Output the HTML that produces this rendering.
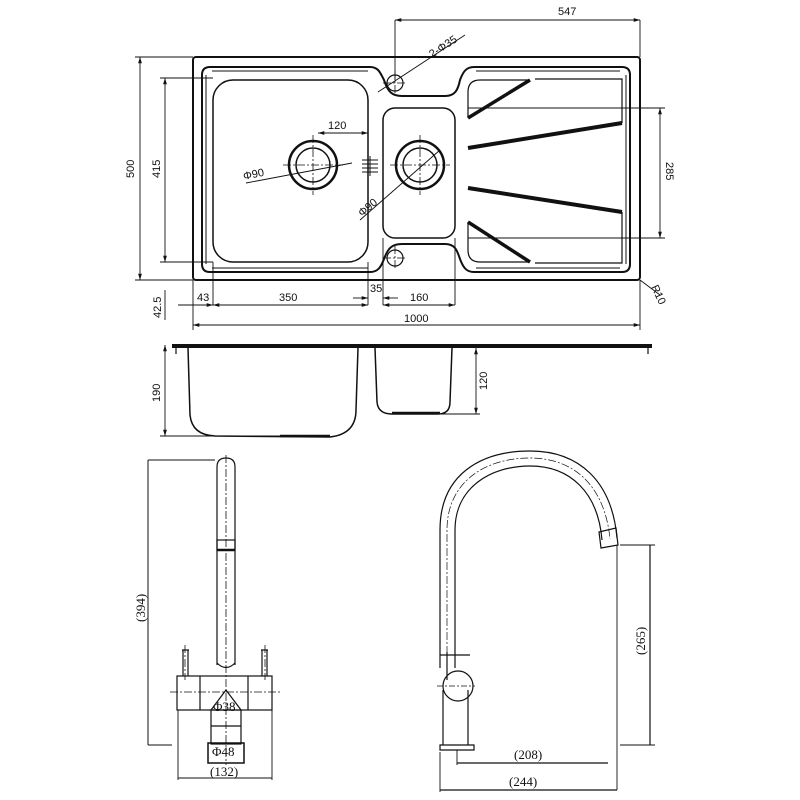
<!DOCTYPE html>
<html><head><meta charset="utf-8"><style>
html,body{margin:0;padding:0;background:#fff;}
svg{display:block;}
text{font-family:"Liberation Sans",sans-serif;font-size:11px;fill:#111;}
.s{font-family:"Liberation Serif",serif;font-size:13px;}
</style></head><body>
<svg width="800" height="800" viewBox="0 0 800 800" xmlns="http://www.w3.org/2000/svg">
<defs>
<marker id="a" viewBox="0 0 10 10" refX="10" refY="5" markerWidth="7" markerHeight="7" orient="auto-start-reverse"><path d="M0,2 L10,5 L0,8 z" fill="#111"/></marker>
</defs>
<g fill="none" stroke="#111" stroke-width="1.2">
<!-- TOP VIEW -->
<rect x="193" y="57" width="447" height="223" rx="3" stroke-width="2"/>
<path d="M210,67 H370 C378,67 380,72 384,80 C388,92 392,96 402,96 H445 C455,96 458,90 460,80 C463,72 466,67 474,67 H622 Q630,67 630,75 V264 Q630,272 622,272 H474 C466,272 463,267 460,259 C457,250 455,244 445,244 H402 C392,244 388,248 384,259 C381,267 378,272 370,272 H210 Q202,272 202,264 V75 Q202,67 210,67 Z" stroke-width="2"/>
<path d="M212,71 H368 M212,268 H368 M206,75 V264 M626,75 V264 M476,71 H620 M476,268 H620" stroke-width="1"/>
<rect x="213" y="80" width="155" height="182" rx="20" stroke-width="1.5"/>
<rect x="383" y="108" width="72" height="130" rx="12" stroke-width="1.5"/>
<path d="M468,118 V92 Q468,80 480,80 H528"/>
<path d="M468,118 L530,80" stroke-width="3.5"/>
<path d="M468,148 L622,123" stroke-width="4"/>
<path d="M468,188 L622,212" stroke-width="4"/>
<path d="M468,222 V250 Q468,262 480,262 H528"/>
<path d="M468,222 L530,262" stroke-width="3.5"/>
<path d="M535,79 H622 V123 M535,263 H622 V212"/>
<circle cx="313" cy="165" r="24" stroke-width="2.5"/><circle cx="313" cy="165" r="17" stroke-width="1.5"/>
<circle cx="420" cy="165" r="24" stroke-width="2.5"/><circle cx="420" cy="165" r="17" stroke-width="1.5"/>
<circle cx="395" cy="83" r="8"/><circle cx="395" cy="258" r="8"/>
<g stroke-dasharray="8,2,2,2" stroke-width="0.8">
<path d="M283,165 H343 M313,135 V195 M390,165 H450 M420,135 V195 M383,83 H407 M395,71 V95 M383,258 H407 M395,246 V270"/>
</g>
<path d="M362,160 H378 M362,164 H378 M362,168 H378 M362,172 H378 M370,156 V176" stroke-width="1"/>
<!-- dims top -->
<g stroke-width="0.9">
<path d="M395,20 V80 M640,20 V57 M468,108 H665 M468,238 H665 M160,78 H213 M160,262 H213 M135,57 H193 M135,280 H193"/>
<path d="M213,262 V305 M368,262 V305 M383,238 V305 M455,238 V305 M193,280 V330 M640,280 V330 M165,290 V320"/>
<path d="M395,20 H640" marker-start="url(#a)" marker-end="url(#a)"/>
<path d="M140,57 V280" marker-start="url(#a)" marker-end="url(#a)"/>
<path d="M165,78 V262" marker-start="url(#a)" marker-end="url(#a)"/>
<path d="M660,108 V238" marker-start="url(#a)" marker-end="url(#a)"/>
<path d="M178,305 H213" marker-end="url(#a)"/>
<path d="M213,305 H368" marker-start="url(#a)" marker-end="url(#a)"/>
<path d="M353,298 H368" marker-end="url(#a)"/><path d="M398,298 H383" marker-end="url(#a)"/>
<path d="M383,305 H455" marker-start="url(#a)" marker-end="url(#a)"/>
<path d="M193,325 H640" marker-start="url(#a)" marker-end="url(#a)"/>
<path d="M318,133 H368" marker-start="url(#a)" marker-end="url(#a)"/>
<path d="M246,183 L352,163 M360,220 L440,150 M378,92 L465,35 M640,280 L660,295"/>
</g>
<!-- SIDE VIEW -->
<path d="M172,344 H652 V348 H172 Z" fill="#111" stroke="none"/>
<path d="M176,348 V354 M648,348 V354"/>
<path d="M188,348 L190,415 Q192,435 215,436 L330,437 Q356,434 356,410 L358,348" stroke-width="1.5"/>
<path d="M375,348 L377,402 Q378,414 392,414 H438 Q450,414 450,402 L452,348" stroke-width="1.5"/>
<path d="M280,436 H330 M392,413 H440" stroke-width="2.5"/>
<path d="M160,436 H330 M440,414 H480" stroke-width="0.9"/>
<path d="M165,345 V436" marker-start="url(#a)" marker-end="url(#a)" stroke-width="0.9"/>
<path d="M476,348 V414" marker-start="url(#a)" marker-end="url(#a)" stroke-width="0.9"/>
<!-- LEFT TAP -->
<path d="M217,665 V467 Q217,458 226,458 Q235,458 235,467 V665"/>
<rect x="217" y="540" width="18" height="10"/>
<path d="M217,550 H235" stroke-width="2.5"/>
<path d="M217,663 Q226,672 235,663"/>
<rect x="177" y="676" width="95" height="34"/>
<path d="M200,676 V710 M248,676 V710"/>
<path d="M211,710 L226,690 L241,710"/>
<rect x="211" y="710" width="30" height="34"/>
<path d="M211,726 H241"/>
<rect x="208" y="743" width="36" height="20" stroke-width="1.5"/>
<path d="M183,650 V676 M188,650 V676 M262,650 V676 M267,650 V676 M182,650 H189 M261,650 H268"/>
<g stroke-dasharray="8,2,2,2" stroke-width="0.8"><path d="M226,455 V765 M170,692 H280 M185,645 V680 M265,645 V680"/></g>
<path d="M148,460 H215 M148,745 H172 M178,710 V780 M272,710 V780" stroke-width="0.9"/>
<path d="M148,460 V745" stroke-width="1"/>
<path d="M178,778 H272" stroke-width="1"/>
<!-- RIGHT TAP -->
<path d="M440,668 V530 C440,475 480,451 530,451 C580,451 612,482 617,538"/>
<path d="M455,668 V530 C455,488 490,466 530,466 C570,466 598,492 602,540"/>
<path d="M447,668 V530 C447,482 485,458 530,458 C575,458 605,487 610,539" stroke-dasharray="8,2,2,2" stroke-width="0.7"/>
<path d="M599,532 L616,528 L618,545 L601,548 Z"/>
<path d="M447,652 V680 M440,655 H470"/>
<circle cx="458" cy="686" r="15"/>
<path d="M443,690 V745 M468,690 V745"/>
<path d="M440,745 H474 V750 H440 Z"/>
<path d="M437,686 H475" stroke-dasharray="6,2,2,2" stroke-width="0.7"/>
<path d="M620,545 H655 M620,745 H655 M457,750 V765 M617,545 V790 M440,752 V792" stroke-width="0.9"/>
<path d="M650,545 V745"/>
<path d="M457,763 H608"/>
<path d="M440,790 H617"/>
</g>
<!-- labels -->
<text x="558" y="15">547</text>
<text transform="translate(432,58) rotate(-33)">2-Φ35</text>
<text x="328" y="129">120</text>
<text transform="translate(244,180) rotate(-12)">Φ90</text>
<text transform="translate(362,217) rotate(-40)">Φ90</text>
<text transform="translate(134,178) rotate(-90)">500</text>
<text transform="translate(160,178) rotate(-90)">415</text>
<text transform="translate(666,162) rotate(90)">285</text>
<text transform="translate(161,318) rotate(-90)">42.5</text>
<text x="197" y="301">43</text>
<text x="279" y="301">350</text>
<text x="370" y="292">35</text>
<text x="410" y="301">160</text>
<text x="404" y="322">1000</text>
<text transform="translate(651,287) rotate(65)">R10</text>
<text transform="translate(160,402) rotate(-90)">190</text>
<text transform="translate(487,390) rotate(-90)">120</text>
<text class="s" transform="translate(145,622) rotate(-90)">(394)</text>
<text class="s" x="213" y="711" font-size="11">Φ38</text>
<text class="s" x="212" y="756" font-size="11">Φ48</text>
<text class="s" x="210" y="776">(132)</text>
<text class="s" transform="translate(645,655) rotate(-90)">(265)</text>
<text class="s" x="514" y="759">(208)</text>
<text class="s" x="509" y="786">(244)</text>
</svg>
</body></html>
